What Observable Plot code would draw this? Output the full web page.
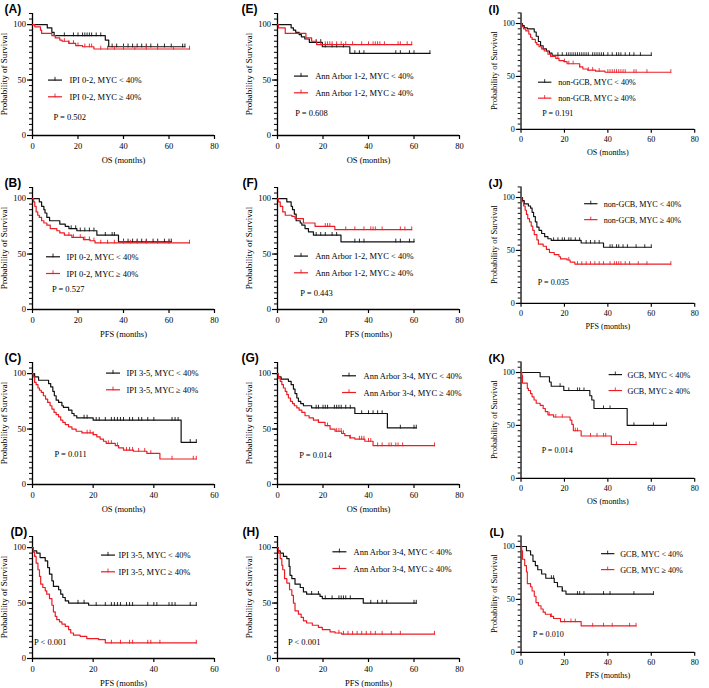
<!DOCTYPE html>
<html><head><meta charset="utf-8">
<script src="https://cdn.jsdelivr.net/npm/d3@7"></script>
<script src="https://cdn.jsdelivr.net/npm/@observablehq/plot@0.6"></script>
<style>
html,body{margin:0;padding:0;background:#fff}
body{width:709px;height:688px;overflow:hidden;position:relative}
.panel{position:absolute}
.panel svg{overflow:visible}
</style></head><body>
<script>
// ---------- labels ----------
const panelLetters = ["A","B","C","D","E","F","G","H","I","J","K","L"];
const xTitles = ["OS (months)","PFS (months)","OS (months)","PFS (months)",
                 "OS (months)","PFS (months)","OS (months)","PFS (months)",
                 "OS (months)","PFS (months)","OS (months)","PFS (months)"];
const xMaxes = [80,80,60,60,80,80,80,80,80,80,80,80];
const groupNames = ["IPI 0-2","IPI 0-2","IPI 3-5","IPI 3-5",
                    "Ann Arbor 1-2","Ann Arbor 1-2","Ann Arbor 3-4","Ann Arbor 3-4",
                    "non-GCB","non-GCB","GCB","GCB"];
const pValues = ["P = 0.502","P = 0.527","P = 0.011","P < 0.001",
                 "P = 0.608","P = 0.443","P = 0.014","P < 0.001",
                 "P = 0.191","P = 0.035","P = 0.014","P = 0.010"];
const yTickLabels = [0,50,100];
const yTitle = "Probability of Survival";

// ---------- survival data: [time, survival %] steps, end time, censor times ----------
const A_lo = [[0,100],[6.5,97],[8.5,93],[9.5,90],[32,86],[33.5,80]];
const A_lo_end = 67;
const A_lo_cens = [14,18,20,22,23,24,25,26,28,30,35,37,40,42,44,46,48,50,52,55,58,61,66,67];
const A_hi = [[0,100],[1,98],[3.5,95],[4,92],[8.5,90],[10,88],[12,86],[13,85],[16,83],[19,81],[22,80],[27,78]];
const A_hi_end = 69;
const A_hi_cens = [14,16,18,20,23,25,26,30,33,36,40,45,50,55,62,69];

const B_lo = [[0,100],[3,97],[4,93],[5,90],[5.5,87],[6.3,83],[7.5,80],[12,77],[14.4,75],[16,73],[19.5,71],[28.3,67],[37.8,61]];
const B_lo_end = 61;
const B_lo_cens = [17,19,21,23,25,27,32,35,36,40,42,44,46,48,50,53,55,58,60,61];
const B_hi = [[0,100],[0.5,97],[1,93],[1.6,88],[2.3,85],[3,83],[4,80],[5,78],[6.3,76],[7.8,73],[10.7,71],[12,69],[14,67],[17.3,65],[22.4,63],[25.3,62],[27.5,60]];
const B_hi_end = 69;
const B_hi_cens = [16,18,21,23,25,27,30,33,36,40,43,46,50,55,60,69];

const C_lo = [[0,100],[0.7,97],[2,94],[5.3,91],[6,88],[6.7,84],[7.2,80],[7.8,76],[8.6,74],[9.7,71],[10.2,69.5],[11.9,67],[13,64],[13.7,62],[14.6,60],[20,58],[49,38]];
const C_lo_end = 54;
const C_lo_cens = [17,18,21,22,24,26,27,28,29,30,32,33,35,36,38,40,46,47,48,52,54];
const C_hi = [[0,100],[0.3,97],[0.7,92],[1.2,90],[1.8,87],[2.3,85],[2.9,83],[3.6,80],[4.3,77],[5,74],[5.8,71],[6.4,68],[7.1,65],[7.8,63],[8.6,61],[9.3,58],[10,56],[10.8,54],[11.9,52],[13,50],[14.4,48],[16.3,46.5],[20,45],[21.2,43],[22.3,41],[23.4,39],[24.3,37],[27.3,35],[28.4,33],[30,31],[33.3,30],[37.7,28],[42,23]];
const C_hi_end = 54;
const C_hi_cens = [18,19,20,25,26,28,31,32,33,35,37,39,46,53,54];

const D_lo = [[0,100],[0.3,97],[1.4,95],[2.5,91],[4.2,88],[5,82],[5.6,76],[6.4,70],[6.9,65],[8.6,62],[9.3,58],[10,55],[10.8,52],[11.9,50],[18.5,48]];
const D_lo_end = 54;
const D_lo_cens = [15,17,21,24,26,27,28,29,31,32,33,38,40,41,45,46,47,52,54];
const D_hi = [[0,100],[0.3,96],[0.7,92],[1.2,86],[1.8,80],[2.3,74],[2.7,67],[3.4,64],[4.2,61],[4.7,58],[5.6,54],[6.4,48],[6.9,42],[7.5,38],[8,35],[8.9,33],[9.7,31],[10.8,29],[11.9,26],[12.6,23],[13.5,21],[15.7,20],[17.9,18],[21.8,17],[24,14]];
const D_hi_end = 54;
const D_hi_cens = [26,29,32,33,38,39,42,54];

const E_lo = [[0,100],[6,97],[7,95],[8,93],[9.5,91],[10.5,89],[12,87],[14,84],[19.7,80],[31.8,74]];
const E_lo_end = 67;
const E_lo_cens = [17,19,21,24,26,29,34,36,38,52,54,58,60,67];
const E_hi = [[0,100],[0.4,97],[3.4,92],[12.5,88],[15,85],[17.2,82]];
const E_hi_end = 59;
const E_hi_cens = [19,21,22,23,24,26,28,30,33,37,40,42,43,44,45,47,53,54,57,59];

const F_lo = [[0,100],[4.1,97],[6,93],[6.6,90],[7.4,86],[8.2,80],[10,78],[10.7,76],[12.1,73],[13.6,70],[15.8,67],[27.9,61]];
const F_lo_end = 60;
const F_lo_cens = [17,19,21,24,26,34,36,38,52,54,58,60];
const F_hi = [[0,100],[0.4,97],[1.2,93],[2.3,88],[3.4,85],[6.3,84],[7.7,82],[11.4,78],[16.5,75],[25.2,72]];
const F_hi_end = 59;
const F_hi_cens = [21,22,23,30,34,38,41,42,43,46,54,56,59];

const G_lo = [[0,100],[0.4,97],[1.6,95],[4.8,93],[6,90],[7,86],[7.7,82],[8.5,78],[9.2,75],[10.2,73],[11.4,71],[15,69],[34,64],[48.3,51]];
const G_lo_end = 61;
const G_lo_cens = [17,18,20,21,22,25,26,27,28,30,32,37,40,42,44,46,54,60,61];
const G_hi = [[0,100],[0.4,96],[1.2,93],[1.9,90],[2.6,87],[3.4,84],[4.1,81],[4.8,78],[5.7,75],[6.6,73],[7.4,71],[8.5,69],[9.5,67],[10.7,65],[12.1,62],[13.9,60],[15.8,58],[18,56],[20.9,53],[23.1,50],[25.3,48],[28.2,46],[29.6,44],[31.8,42],[34,41],[38.4,39],[42,35]];
const G_hi_end = 69;
const G_hi_cens = [18,22,26,27,28,29,32,36,37,38,40,41,44,46,49,50,52,53,55,69];

const H_lo = [[0,100],[0.4,97],[1.2,95],[2.6,92],[4.1,90],[5.1,83],[5.5,75],[6.3,72],[7.7,67],[10,64],[11.4,60],[12.8,58],[18.7,56],[19.7,54],[37.7,50]];
const H_lo_end = 61;
const H_lo_cens = [15,18,21,24,27,28,29,30,32,41,44,46,48,60,61];
const H_hi = [[0,100],[0.4,95],[1.2,90],[1.9,84],[2.3,80],[3.1,72],[4.1,68],[5.3,62],[6.3,57],[7,50],[7.7,43],[9.2,40],[10.4,37],[11.4,34],[12.8,32],[15.3,30],[18,28],[19.7,26],[23.1,24],[25.3,23],[28.2,22]];
const H_hi_end = 69;
const H_hi_cens = [27,29,31,33,35,37,39,41,43,46,50,54,69];

const I_lo = [[0,100],[0.7,98],[1.5,96],[2.9,95],[6.1,92],[7,88],[8,83],[9,79],[10.2,76],[11.7,74],[13.1,72],[14.3,70]];
const I_lo_end = 60;
const I_lo_cens = [17,19,21,22,23,24,25,26,27,28,29,30,31,33,34,35,36,37,38,40,42,44,45,46,48,50,52,55,60];
const I_hi = [[0,100],[0.4,97],[1.2,95],[2.2,93],[3.6,90],[4.4,87],[5.1,85],[6.6,82],[7.3,80],[8.3,78],[9.5,76],[10.7,74],[12.4,71],[13.6,69],[16,67],[17.5,65],[19.7,64],[21.2,62],[27,59],[28.5,57],[30.7,56],[34.3,55],[38.7,54]];
const I_hi_end = 69;
const I_hi_cens = [17,20,22,24,27,31,33,36,40,41,42,43,44,45,46,47,48,52,53,58,69];

const J_lo = [[0,100],[0.7,97],[1.5,94],[3.4,92],[4.4,90],[5.1,86],[5.8,82],[6.6,77],[7.3,72],[8.3,69],[9.5,66],[10.9,63],[12.4,61],[13.9,59.5],[27.7,57],[38,53]];
const J_lo_end = 60;
const J_lo_cens = [15,17,19,20,22,23,25,27,30,32,34,36,41,42,44,45,47,49,53,57,60];
const J_hi = [[0,100],[0.4,96],[1.2,92],[1.9,88],[2.5,84],[3.1,80],[3.9,77],[4.7,73],[5.4,69],[6.1,65],[7.3,60],[8,56],[10.2,54],[11.7,51],[13.1,48],[15.3,46],[17.5,44],[18.2,42],[21.2,41],[22.6,39],[24.8,37]];
const J_hi_end = 69;
const J_hi_cens = [22,26,28,30,32,34,36,38,41,43,44,45,46,48,50,54,58,69];

const K_lo = [[0,100],[8.8,96],[13.1,91],[13.9,87],[19.7,83],[31.7,78],[32.6,74],[33.6,66],[48.9,50]];
const K_lo_end = 67;
const K_lo_cens = [18,22,26,27,29,38,41,52,61,67];
const K_hi = [[0,100],[0.4,97],[0.7,90],[2.9,85],[3.4,83],[4.4,80],[5.1,77],[6,74],[7,71],[8.8,69],[10.2,66],[11.2,63],[12.4,60],[15,58],[22.6,55],[23.4,51],[24.1,45],[27.7,40],[41.6,32]];
const K_hi_end = 53;
const K_hi_cens = [13,16,19,25,26,32,35,38,39,44,50,53];

const L_lo = [[0,100],[2.5,96],[4.4,92],[5.5,86],[6.6,82],[7.7,78],[9.5,74],[11.4,70],[15.3,66],[16.8,62],[19,58],[20.7,55]];
const L_lo_end = 61;
const L_lo_cens = [14,15,19,26,27,29,38,41,52,61];
const L_hi = [[0,100],[0.3,96],[0.7,88],[1.7,82],[2.5,76],[2.9,65],[4.4,62],[5.1,58],[6.1,53],[6.9,47],[8,44],[9.2,41],[10.2,38],[11.2,36],[13.6,34],[15,32],[18.2,29],[27.7,25]];
const L_hi_end = 53;
const L_hi_cens = [14,20,23,25,33,38,42,50,53];

const curvesLo = [[A_lo,A_lo_end,A_lo_cens],[B_lo,B_lo_end,B_lo_cens],[C_lo,C_lo_end,C_lo_cens],[D_lo,D_lo_end,D_lo_cens],
  [E_lo,E_lo_end,E_lo_cens],[F_lo,F_lo_end,F_lo_cens],[G_lo,G_lo_end,G_lo_cens],[H_lo,H_lo_end,H_lo_cens],
  [I_lo,I_lo_end,I_lo_cens],[J_lo,J_lo_end,J_lo_cens],[K_lo,K_lo_end,K_lo_cens],[L_lo,L_lo_end,L_lo_cens]];
const curvesHi = [[A_hi,A_hi_end,A_hi_cens],[B_hi,B_hi_end,B_hi_cens],[C_hi,C_hi_end,C_hi_cens],[D_hi,D_hi_end,D_hi_cens],
  [E_hi,E_hi_end,E_hi_cens],[F_hi,F_hi_end,F_hi_cens],[G_hi,G_hi_end,G_hi_cens],[H_hi,H_hi_end,H_hi_cens],
  [I_hi,I_hi_end,I_hi_cens],[J_hi,J_hi_end,J_hi_cens],[K_hi,K_hi_end,K_hi_cens],[L_hi,L_hi_end,L_hi_cens]];

// ---------- layout (pixels, relative to axis origin x / y=100 line) ----------
const legendPos = [[16,37,56],[14,34,58.7],[74,94,0],[69,86,8],
                   [17,37.7,52],[17,37.7,58],[65,86,2.7],[55.4,76,4.7],
                   [18.3,39,62],[66.6,86.6,7],[92.3,111.6,2.7],[84.3,104,8]];
const pPos = [[21,93],[19.4,90.6],[22,81],[1.5,94.7],
              [17.7,88.7],[22.7,94.6],[21.7,82],[10.4,94.7],
              [22.3,93.7],[17.6,88.6],[21.6,82],[12.3,92.3]];
const letterDx = [-28,-28,-28,-22,-36,-35,-36,-35,-34,-34,-34,-33];
const colLeft = [0,245,489.5];
const rowTop = [0.5,175,349.5,524];

const RED = "#ed1c24", BLACK = "#111";
const ML = 32, MT = 12, W = 230, H = 172, MB = 38, MR = 16;
const plotH = H - MT - MB;
const y100off = plotH * 10 / 110;
const tickSym = { draw(ctx) { ctx.moveTo(0, 0.6); ctx.lineTo(0, -3.2); } };
const SERIF = "'Liberation Serif','Times New Roman',serif";

function kmLine(steps, end) {
  return [...steps, [end, steps[steps.length - 1][1]]].map(([t, s]) => ({t, s}));
}
function survAt(steps, t) {
  let s = steps[0][1];
  for (const [tt, ss] of steps) if (tt <= t) s = ss;
  return s;
}

panelLetters.forEach((letter, i) => {
  const col = Math.floor(i / 4), row = i % 4;
  const xmax = xMaxes[i];
  const [loS, loE, loC] = curvesLo[i];
  const [hiS, hiE, hiC] = curvesHi[i];
  const [lx, tx, ly] = legendPos[i];
  const [px, py] = pPos[i];
  const gap = 16.7;
  const curveMarks = (steps, end, cens, color) => [
    Plot.line(kmLine(steps, end), {x: "t", y: "s", curve: "step-after", stroke: color, strokeWidth: 1.2}),
    Plot.dot(cens.map(t => ({t, s: survAt(steps, t)})), {x: "t", y: "s", symbol: tickSym, stroke: color, fill: "none", strokeWidth: 0.9})
  ];
  const txt = (s, opts) => Plot.text([s], {text: d => d, ...opts});
  const plot = Plot.plot({
    width: W, height: H, marginLeft: ML, marginRight: MR, marginTop: MT, marginBottom: MB,
    x: {domain: [0, xmax]},
    y: {domain: [0, 110]},
    style: {fontFamily: SERIF, fontSize: "8.5px", color: "#000", background: "transparent", overflow: "visible"},
    marks: [
      Plot.axisY(d3.range(0, 111, 5), {tickSize: 3, text: null, label: null, strokeWidth: 1}),
      Plot.axisY(yTickLabels, {tickSize: 5, tickPadding: 1.5, label: null, strokeWidth: 1.2, fontSize: 8.5}),
      Plot.axisX(d3.range(0, xmax + 1, 20), {tickSize: 4, tickPadding: 3, label: null, strokeWidth: 1.2, fontSize: 8.5}),
      Plot.ruleX([0], {y1: 0, y2: 110, stroke: "#000", strokeWidth: 1.3}),
      Plot.ruleY([0], {x1: 0, x2: xmax, stroke: "#000", strokeWidth: 1.3}),
      ...curveMarks(loS, loE, loC, BLACK),
      ...curveMarks(hiS, hiE, hiC, RED),
      txt("(" + letter + ")", {frameAnchor: "top-left", dx: letterDx[i], dy: -4, textAnchor: "start", lineAnchor: "middle",
        fontFamily: "'Liberation Sans',Arial,sans-serif", fontWeight: "bold", fontSize: 12}),
      txt(xTitles[i], {frameAnchor: "bottom", dy: 27, fontSize: 8.5}),
      txt(groupNames[i] + ", MYC < 40%", {frameAnchor: "top-left", dx: tx, dy: y100off + ly, textAnchor: "start", lineAnchor: "middle", fontSize: 8.5}),
      txt(groupNames[i] + ", MYC \u2265 40%", {frameAnchor: "top-left", dx: tx, dy: y100off + ly + gap, textAnchor: "start", lineAnchor: "middle", fontSize: 8.5}),
      txt(pValues[i], {frameAnchor: "top-left", dx: px, dy: y100off + py, textAnchor: "start", lineAnchor: "middle", fontSize: 8.5})
    ]
  });
  const svg = d3.select(plot);
  // rotated y-axis title
  svg.append("text")
    .attr("transform", `translate(${ML - 27.5},${MT + plotH / 2}) rotate(-90)`)
    .attr("text-anchor", "middle").attr("dy", "0.32em")
    .attr("font-family", SERIF).attr("font-size", 9).attr("fill", "#000")
    .text(yTitle);
  // legend swatches
  [[BLACK, ly], [RED, ly + gap]].forEach(([c, yy]) => {
    const y = MT + y100off + yy;
    svg.append("line").attr("x1", ML + lx).attr("x2", ML + lx + 14).attr("y1", y).attr("y2", y)
      .attr("stroke", c).attr("stroke-width", 1.2);
    svg.append("line").attr("x1", ML + lx + 7).attr("x2", ML + lx + 7).attr("y1", y + 0.6).attr("y2", y - 3.2)
      .attr("stroke", c).attr("stroke-width", 0.9);
  });
  const div = document.createElement("div");
  div.className = "panel";
  div.style.left = colLeft[col] + "px";
  div.style.top = rowTop[row] + "px";
  div.appendChild(plot);
  document.body.appendChild(div);
});
</script>
</body></html>
